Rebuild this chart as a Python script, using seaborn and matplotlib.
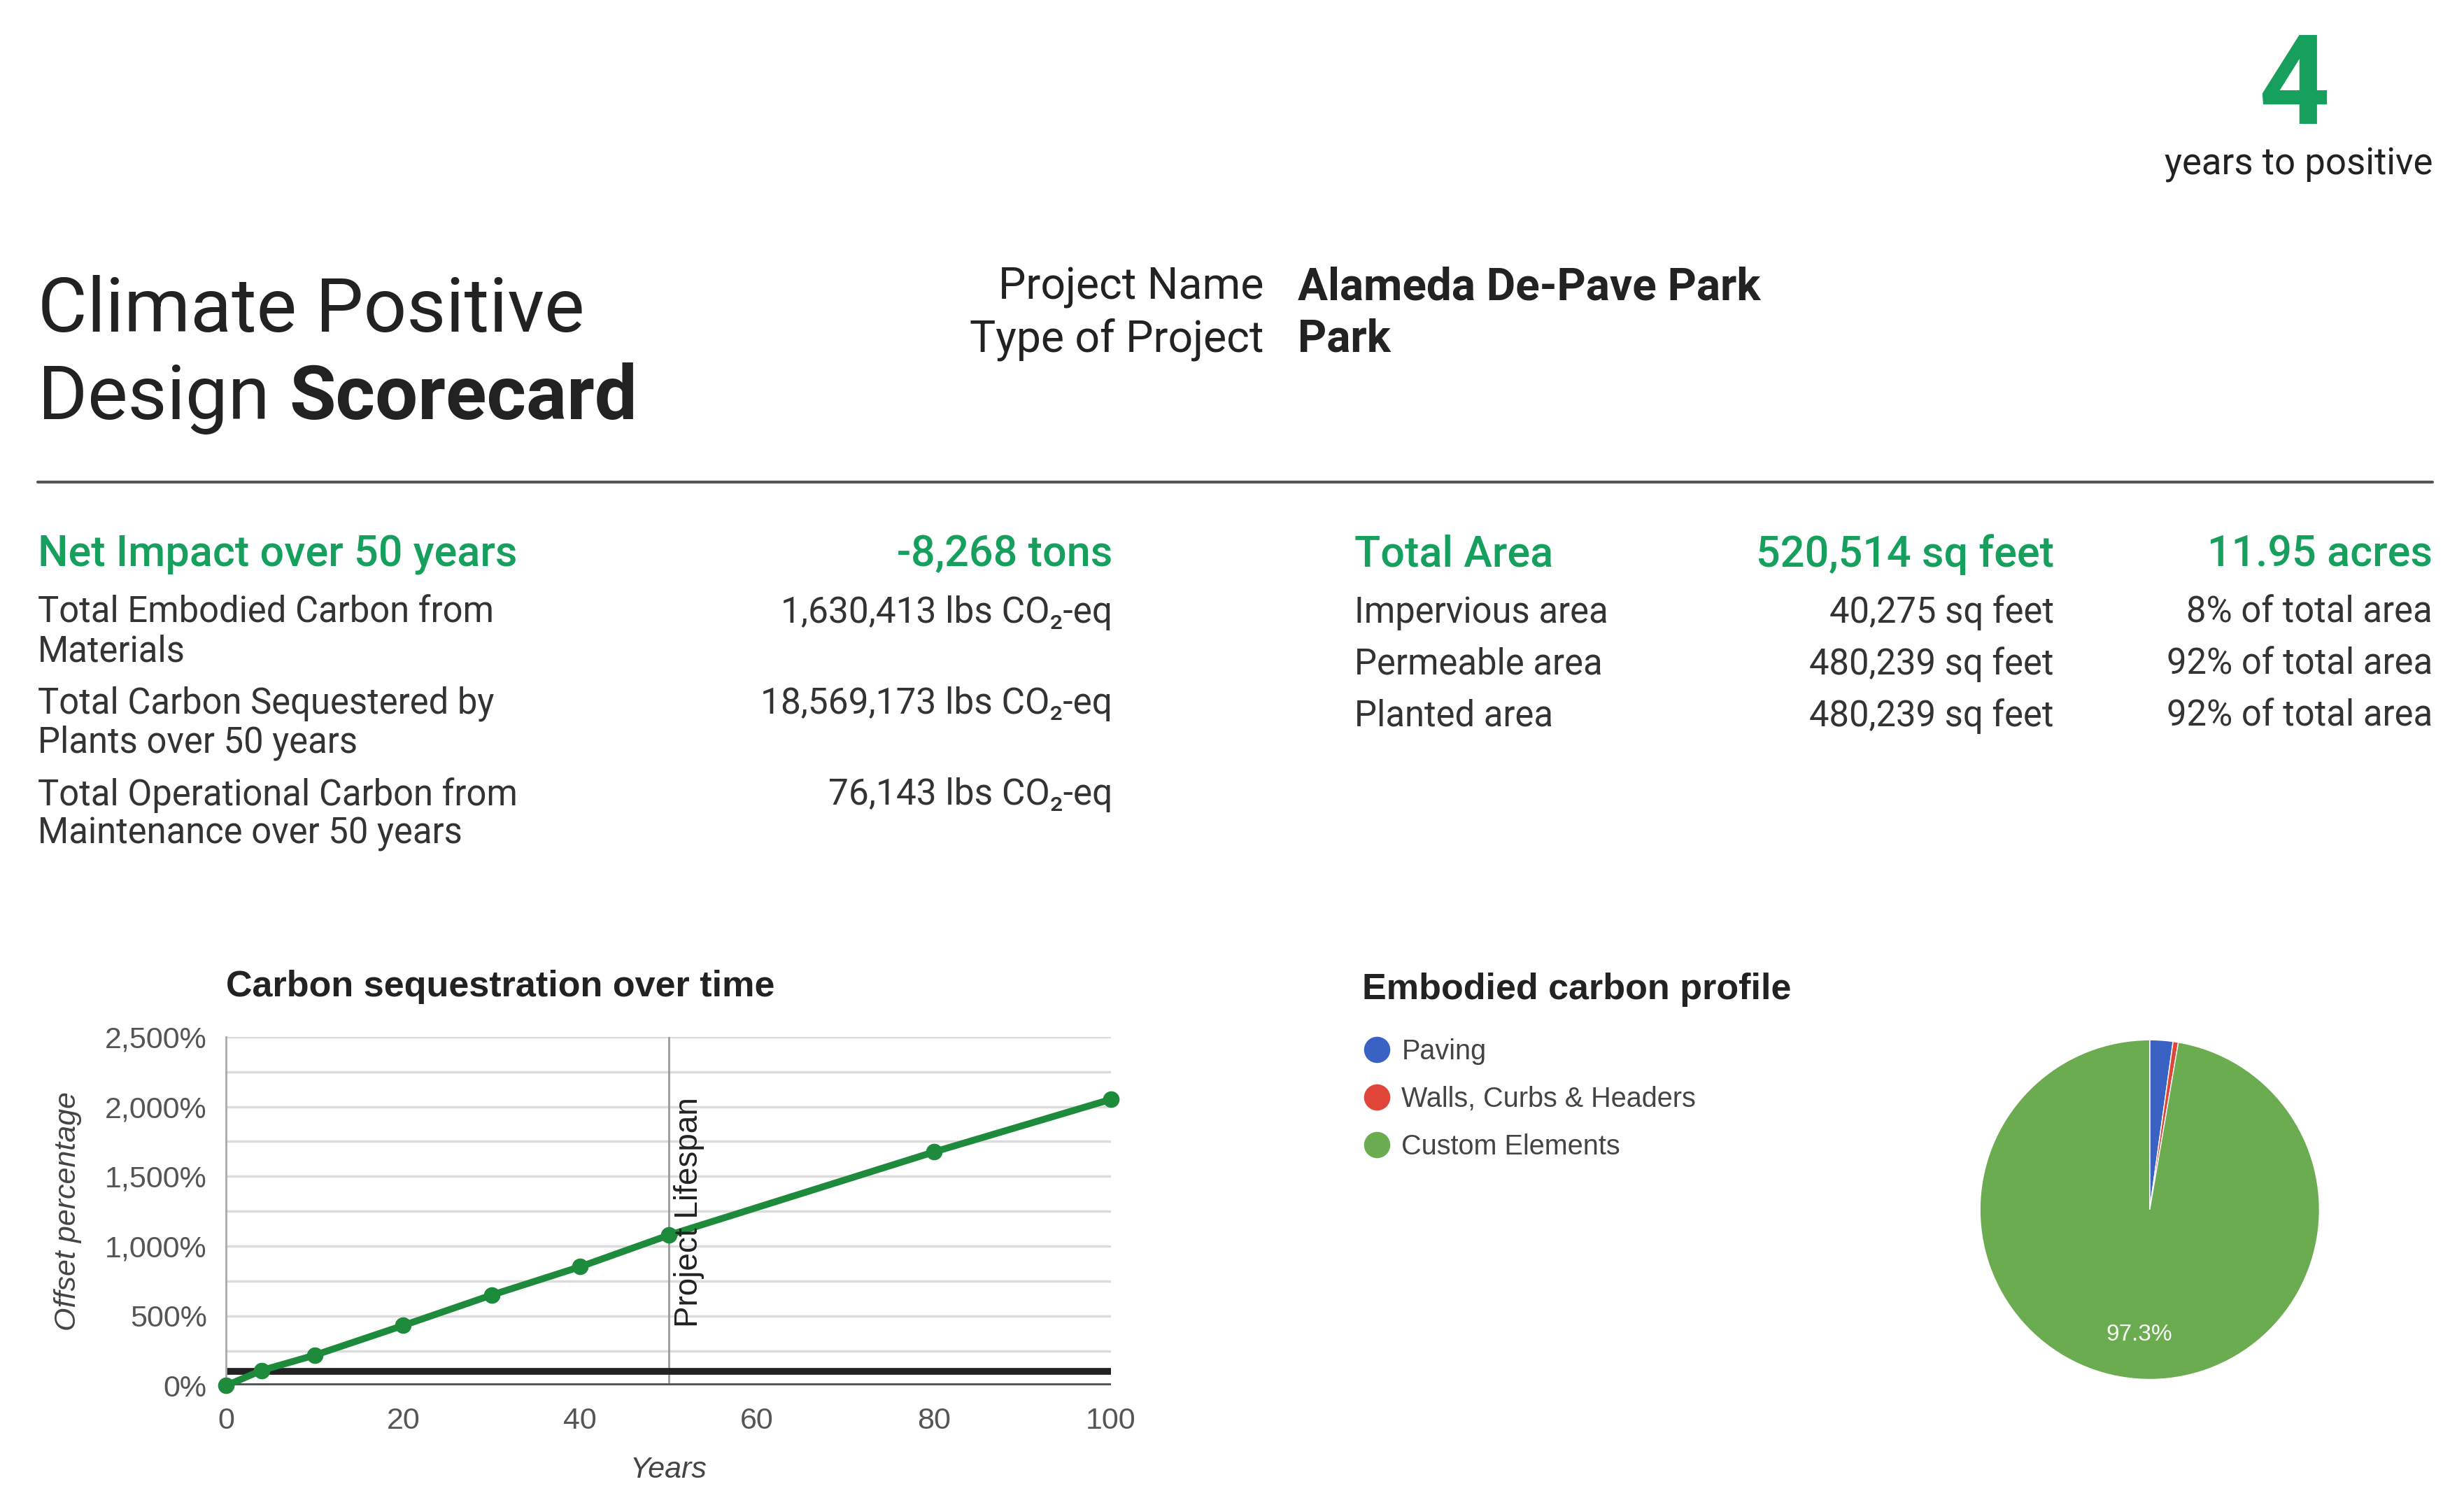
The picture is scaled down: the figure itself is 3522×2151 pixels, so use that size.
import matplotlib
matplotlib.use('Agg')
import matplotlib.pyplot as plt
from matplotlib.lines import Line2D
import seaborn as sns

# datos de la curva de secuestro
years = [0, 4, 10, 20, 30, 40, 50, 80, 100]
offset_pct = [0, 109, 218, 431, 649, 852, 1078, 1675, 2052]
break_even = 100
project_lifespan = 50
y_ticks = [0, 500, 1000, 1500, 2000, 2500]
x_ticks = [0, 20, 40, 60, 80, 100]

# perfil de carbono incorporado
carbon_parts = ['Paving', 'Walls, Curbs & Headers', 'Custom Elements']
carbon_share = [2.2, 0.5, 97.3]
carbon_colors = ['#3a62c2', '#e0453a', '#6aac4f']

# textos de la ficha
years_to_positive = '4'
project_name = 'Alameda De-Pave Park'
project_type = 'Park'
net_impact = '-8,268 tons'
impact_labels = [['Total Embodied Carbon from', 'Materials'],
                 ['Total Carbon Sequestered by', 'Plants over 50 years'],
                 ['Total Operational Carbon from', 'Maintenance over 50 years']]
impact_values = ['1,630,413 lbs CO\u2082-eq', '18,569,173 lbs CO\u2082-eq', '76,143 lbs CO\u2082-eq']
total_sqft = '520,514 sq feet'
total_acres = '11.95 acres'
area_labels = ['Impervious area', 'Permeable area', 'Planted area']
area_sqft = ['40,275 sq feet', '480,239 sq feet', '480,239 sq feet']
area_pct = ['8% of total area', '92% of total area', '92% of total area']

sns.set_theme(style='white')
plt.rcParams['font.family'] = ['Roboto', 'DejaVu Sans']

GREEN = '#17a05d'
DARK = '#222222'
BODY = '#333333'
CHART_FONT = ['Liberation Sans', 'DejaVu Sans']

W, H = 1568, 958  # coordenadas de referencia


def fx(x):
    return x / W


def fy(y):
    return 1 - y / H


fig = plt.figure(figsize=(35.22, 21.51), dpi=100)

# cabecera
fig.text(fx(1460), fy(79), years_to_positive, color=GREEN, fontsize=128, fontweight='bold',
         ha='center', va='baseline')
fig.text(fx(1548), fy(105), 'years to positive', color=DARK, fontsize=38, ha='right', va='center')

fig.text(fx(24), fy(211), 'Climate Positive', color=DARK, fontsize=78, ha='left', va='baseline')
fig.text(fx(24), fy(267), 'Design', color=DARK, fontsize=78, ha='left', va='baseline')
fig.text(fx(184), fy(267), 'Scorecard', color=DARK, fontsize=78, fontweight='bold',
         ha='left', va='baseline')

fig.text(fx(804), fy(183), 'Project Name', color=DARK, fontsize=45, ha='right', va='center')
fig.text(fx(826), fy(183), project_name, color=DARK, fontsize=46, fontweight='bold', ha='left', va='center')
fig.text(fx(804), fy(216), 'Type of Project', color=DARK, fontsize=45, ha='right', va='center')
fig.text(fx(826), fy(216), project_type, color=DARK, fontsize=46, fontweight='bold', ha='left', va='center')

fig.add_artist(Line2D([fx(24), fx(1548)], [fy(307), fy(307)], color='#555555', lw=3))

# bloque impacto neto
fig.text(fx(24), fy(353), 'Net Impact over 50 years', color=GREEN, fontsize=44, fontweight='medium',
         ha='left', va='center')
fig.text(fx(708), fy(353), net_impact, color=GREEN, fontsize=44, fontweight='medium', ha='right', va='center')
row_y = [390, 448, 506]
for lines, val, y in zip(impact_labels, impact_values, row_y):
    for i, ln in enumerate(lines):
        fig.text(fx(24), fy(y + 25 * i), ln, color=BODY, fontsize=36.5, ha='left', va='center')
    fig.text(fx(708), fy(y), val, color=BODY, fontsize=37, ha='right', va='center')

# bloque area
fig.text(fx(862), fy(353), 'Total Area', color=GREEN, fontsize=44, fontweight='medium', ha='left', va='center')
fig.text(fx(1307), fy(353), total_sqft, color=GREEN, fontsize=44, fontweight='medium', ha='right', va='center')
fig.text(fx(1548), fy(353), total_acres, color=GREEN, fontsize=44, fontweight='medium', ha='right', va='center')
for lab, sq, pc, y in zip(area_labels, area_sqft, area_pct, [390, 423, 456]):
    fig.text(fx(862), fy(y), lab, color=BODY, fontsize=36.5, ha='left', va='center')
    fig.text(fx(1307), fy(y), sq, color=BODY, fontsize=36.5, ha='right', va='center')
    fig.text(fx(1548), fy(y), pc, color=BODY, fontsize=36.5, ha='right', va='center')

# grafico de lineas
ax = fig.add_axes([fx(144), fy(882), fx(707) - fx(144), fy(660) - fy(882)])
for g in range(250, 2501, 250):
    ax.axhline(g, color='#dcdcdc', lw=2.5, zorder=0)
ax.axvline(project_lifespan, color='#9a9a9a', lw=2, zorder=1)
ax.axhline(break_even, color='#222222', lw=7, zorder=2)
ax.axhline(0, color='#555555', lw=5, zorder=2)
sns.lineplot(x=years, y=offset_pct, ax=ax, color='#1e8a3c', lw=7, marker='o', markersize=17,
             markeredgewidth=0, zorder=3, clip_on=False)
ax.text(project_lifespan + 0.6, 420, 'Project Lifespan', rotation=90, ha='left', va='bottom',
        fontsize=33, color='#222222', family=CHART_FONT)
ax.set_xlim(0, 100)
ax.set_ylim(0, 2500)
ax.set_xticks(x_ticks)
ax.set_yticks(y_ticks)
ax.set_yticklabels([f'{v:,}%' for v in y_ticks])
ax.tick_params(axis='both', length=0, labelsize=31, labelcolor='#555555')
ax.tick_params(axis='x', pad=22)
ax.tick_params(axis='y', pad=20)
for lab in ax.get_xticklabels() + ax.get_yticklabels():
    lab.set_family(CHART_FONT)
for s in ['top', 'right', 'bottom']:
    ax.spines[s].set_visible(False)
ax.spines['left'].set_color('#aaaaaa')
ax.spines['left'].set_linewidth(2)
ax.set_xlabel('Years', fontsize=31, style='italic', color='#444444', family=CHART_FONT, labelpad=22)
ax.set_ylabel('Offset percentage', fontsize=31, style='italic', color='#444444', family=CHART_FONT,
              labelpad=24)
fig.text(fx(144), fy(628), 'Carbon sequestration over time', fontsize=37.5, fontweight='bold',
         color='#222222', family=CHART_FONT, ha='left', va='center')

# grafico de torta
r = 108
pw = 2 * r / W
ph = 2 * r * (35.22 / 21.51) / W
ax2 = fig.add_axes([fx(1368) - pw / 2, fy(770) - ph / 2, pw, ph])
wedges, _, autotexts = ax2.pie(carbon_share, colors=carbon_colors, startangle=90, counterclock=False,
                                autopct=lambda p: f'{p:.1f}%' if p > 5 else '', pctdistance=0.74,
                                wedgeprops=dict(linewidth=1, edgecolor='white'))
for t in autotexts:
    t.set_color('white')
    t.set_fontsize(24)
    t.set_family(CHART_FONT)
ax2.set_xlim(-1, 1)
ax2.set_ylim(-1, 1)

fig.text(fx(867), fy(630), 'Embodied carbon profile', fontsize=37.5, fontweight='bold', color='#222222',
         family=CHART_FONT, ha='left', va='center')
handles = [Line2D([], [], ls='', marker='o', markersize=26, color=c) for c in carbon_colors]
leg = fig.legend(handles, carbon_parts, loc='upper left', bbox_to_anchor=(fx(869), fy(661)),
                 frameon=False, labelspacing=0.75, handlelength=0.8, handletextpad=0.5,
                 borderpad=0, borderaxespad=0, prop={'family': CHART_FONT, 'size': 28.5})
for t in leg.get_texts():
    t.set_color('#444444')

fig.savefig('out.png', dpi=100, facecolor='white')
